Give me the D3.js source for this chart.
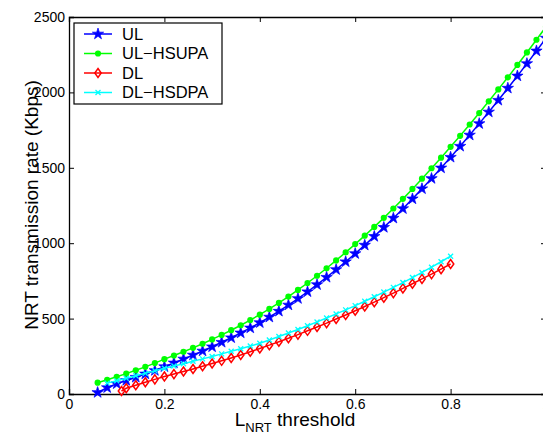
<!DOCTYPE html>
<html>
<head>
<meta charset="utf-8">
<script src="https://cdn.jsdelivr.net/npm/d3@7"></script>
<style>
  body { margin: 0; background: #fff; }
  svg { display: block; font-family: "Liberation Sans", Arial, sans-serif; }
</style>
</head>
<body>
<svg id="chart" width="543" height="434"></svg>
<script>
// values
const ulX = [0.06,0.08,0.10,0.12,0.14,0.16,0.18,0.20,0.22,0.24,0.26,0.28,0.30,0.32,0.34,0.36,0.38,0.40,
  0.42,0.44,0.46,0.48,0.50,0.52,0.54,0.56,0.58,0.60,0.62,0.64,0.66,0.68,0.70,0.72,0.74,0.76,0.78,0.80,
  0.82,0.84,0.86,0.88,0.90,0.92,0.94,0.96,0.98,1.00];
const ul = [10,42,68,90,111,133,156,181,206,232,258,285,313,343,373,405,438,473,
  510,549,590,633,678,725,774,825,877,931,987,1045,1105,1166,1229,1294,1361,1429,1499,1570,
  1643,1717,1793,1870,1948,2028,2109,2191,2275,2360];
const ulHsupa = [75,94,114,135,157,180,205,231,255,280,306,333,362,392,423,456,490,526,
  564,604,646,690,736,784,834,886,939,994,1050,1108,1168,1230,1294,1360,1428,1497,1567,1639,
  1712,1787,1863,1941,2020,2100,2182,2265,2349,2435];

const dlX = [0.11,0.12,0.14,0.16,0.18,0.20,0.22,0.24,0.26,0.28,0.30,0.32,0.34,0.36,0.38,0.40,
  0.42,0.44,0.46,0.48,0.50,0.52,0.54,0.56,0.58,0.60,0.62,0.64,0.66,0.68,0.70,0.72,0.74,0.76,0.78,0.80];
const dl = [20,38,58,78,97,116,132,149,166,184,202,220,239,259,280,302,
  324,347,370,394,419,444,470,497,524,552,580,609,639,669,700,731,763,795,828,862];

const hsdpaX = [0.08,0.10,0.12,0.14,0.16,0.18,0.20,0.22,0.24,0.26,0.28,0.30,0.32,0.34,0.36,0.38,0.40,
  0.42,0.44,0.46,0.48,0.50,0.52,0.54,0.56,0.58,0.60,0.62,0.64,0.66,0.68,0.70,0.72,0.74,0.76,0.78,0.80];
const dlHsdpa = [72,88,104,121,137,154,171,186,201,217,233,249,266,283,300,318,336,
  358,381,404,428,453,478,504,531,558,586,615,645,676,707,739,772,806,841,877,914];

const xTicks = [0, 0.2, 0.4, 0.6, 0.8, 1];
const yTicks = [0, 500, 1000, 1500, 2000, 2500];

const seriesNames = ["UL", "UL\u2212HSUPA", "DL", "DL\u2212HSDPA"];
const seriesColors = ["#0000ff", "#00ff00", "#ff0000", "#00ffff"];

const series = [
  { name: seriesNames[0], color: seriesColors[0], xs: ulX, ys: ul, mark: "star" },
  { name: seriesNames[1], color: seriesColors[1], xs: ulX, ys: ulHsupa, mark: "dot" },
  { name: seriesNames[2], color: seriesColors[2], xs: dlX, ys: dl, mark: "diamond" },
  { name: seriesNames[3], color: seriesColors[3], xs: hsdpaX, ys: dlHsdpa, mark: "x" }
];

const svg = d3.select("#chart");
const m = { left: 69, top: 17, right: 546, bottom: 394 };

const x = d3.scaleLinear().domain([0, 1]).range([m.left, m.right]);
const y = d3.scaleLinear().domain([0, 2500]).range([m.bottom, m.top]);

// axes, ticks pointing inwards like matlab
const fmt = d => String(d);
svg.append("g")
  .attr("transform", `translate(0,${m.bottom})`)
  .call(d3.axisBottom(x).tickValues(xTicks).tickFormat(fmt).tickSize(-5).tickPadding(5))
  .call(g => g.selectAll("text").attr("font-size", 14).attr("fill", "#000"));
svg.append("g")
  .attr("transform", `translate(${m.left},0)`)
  .call(d3.axisLeft(y).tickValues(yTicks).tickFormat(fmt).tickSize(-5).tickPadding(4))
  .call(g => g.selectAll("text").attr("font-size", 14).attr("fill", "#000"));
svg.append("g")
  .attr("transform", `translate(0,${m.top})`)
  .call(d3.axisTop(x).tickValues(xTicks).tickSize(-5).tickFormat(""));
svg.append("g")
  .attr("transform", `translate(${m.right},0)`)
  .call(d3.axisRight(y).tickValues(yTicks).tickSize(-5).tickFormat(""));
svg.selectAll(".domain").attr("stroke", "#000").attr("stroke-width", 1.3);
svg.selectAll(".tick line").attr("stroke", "#000");

// markers
const starPath = d3.symbol(d3.symbolStar, 40)();
const dotPath = d3.symbol(d3.symbolCircle, 30)();
const diamondPath = "M0,-4.5L3.2,0L0,4.5L-3.2,0Z";
const xPath = "M-2.5,-2.5L2.5,2.5M-2.5,2.5L2.5,-2.5";

function drawMark(g, s, px, py) {
  if (s.mark === "star") {
    g.append("path").attr("d", starPath).attr("transform", `translate(${px},${py})`)
      .attr("fill", s.color).attr("stroke", s.color).attr("stroke-width", 0.7);
  } else if (s.mark === "dot") {
    g.append("path").attr("d", dotPath).attr("transform", `translate(${px},${py})`)
      .attr("fill", s.color);
  } else if (s.mark === "diamond") {
    g.append("path").attr("d", diamondPath).attr("transform", `translate(${px},${py})`)
      .attr("fill", "none").attr("stroke", s.color).attr("stroke-width", 1.5);
  } else {
    g.append("path").attr("d", xPath).attr("transform", `translate(${px},${py})`)
      .attr("fill", "none").attr("stroke", s.color).attr("stroke-width", 1.3);
  }
}

const line = d3.line().x(d => x(d[0])).y(d => y(d[1]));
const plot = svg.append("g");
series.forEach(s => {
  const pts = s.xs.map((v, i) => [v, s.ys[i]]);
  plot.append("path").datum(pts).attr("d", line)
    .attr("fill", "none").attr("stroke", s.color).attr("stroke-width", 1.5);
  const mg = plot.append("g");
  pts.forEach(p => drawMark(mg, s, x(p[0]), y(p[1])));
});

// legend
const lg = svg.append("g").attr("transform", "translate(74,23)");
lg.append("rect").attr("width", 148).attr("height", 81)
  .attr("fill", "#fff").attr("stroke", "#000").attr("stroke-width", 1.2);
series.forEach((s, i) => {
  const ly = 11 + i * 19.5;
  lg.append("line").attr("x1", 10).attr("x2", 38).attr("y1", ly).attr("y2", ly)
    .attr("stroke", s.color).attr("stroke-width", 1.5);
  drawMark(lg, s, 24, ly);
  lg.append("text").attr("x", 48).attr("y", ly).attr("dy", "0.36em")
    .attr("font-size", 16.5).text(s.name);
});

// axis titles
svg.append("text")
  .attr("transform", `translate(38,${(77 + 333) / 2}) rotate(-90)`)
  .attr("text-anchor", "middle").attr("font-size", 19)
  .text("NRT transmission rate (Kbps)");
const xl = svg.append("text")
  .attr("x", 295).attr("y", 426).attr("text-anchor", "middle").attr("font-size", 19);
xl.append("tspan").text("L");
xl.append("tspan").attr("font-size", 13).attr("dy", 6).text("NRT");
xl.append("tspan").attr("dy", -6).text(" threshold");
</script>
</body>
</html>
